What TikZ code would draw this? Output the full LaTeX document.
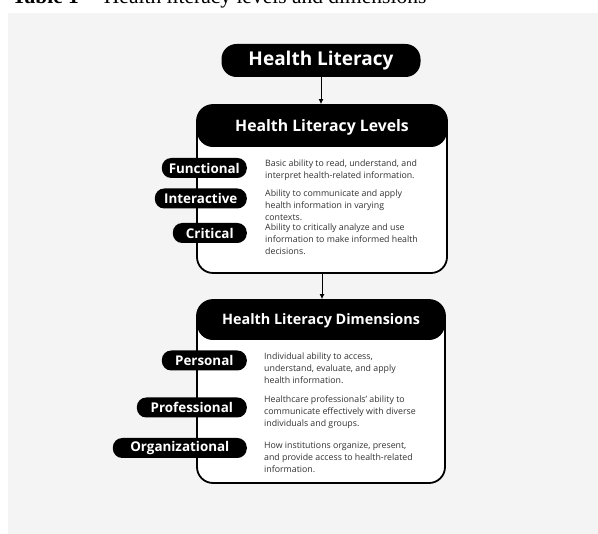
\documentclass[tikz,border=0pt]{standalone}
\usepackage{fontspec}
\setmainfont{Open Sans}
\newfontfamily\captionfont{Liberation Serif}
\usepackage{xcolor}
\usepackage{tikz}
\usetikzlibrary{arrows.meta}

\definecolor{paper}{RGB}{243,244,243}
\definecolor{inktext}{RGB}{50,50,50}

\tikzset{
	toppill/.style={fill=black, text=white, rounded corners=15pt, minimum width=199pt, minimum height=33pt, inner sep=0pt, font=\bfseries\fontsize{19}{21}\selectfont},
	pill/.style={fill=black, text=white, rounded corners=9.5pt, minimum height=20pt, inner sep=0pt, anchor=east, font=\bfseries\fontsize{13.4}{15}\selectfont},
	panel/.style={draw=black, line width=1.8pt, fill=white, rounded corners=16pt, inner sep=0pt,
		path picture={\fill[black] (path picture bounding box.north west) rectangle ([yshift=-#1]path picture bounding box.north east);}},
	paneltitle/.style={text=white, inner sep=0pt, font=\bfseries\fontsize{15.8}{18}\selectfont},
	blurb/.style={anchor=base west, align=left, inner sep=0pt, text=inktext, font=\fontsize{8.8}{12}\selectfont},
	link/.style={-{Latex[length=5pt,width=5pt]}, line width=1pt},
}

\begin{document}
\begin{tikzpicture}[x=1pt,y=-1pt]

\clip (0,0) rectangle (598,534);
\fill[white] (0,0) rectangle (598,534);
\fill[paper] (8,13) rectangle (598,534);

\node[anchor=base west, inner sep=0pt, font=\captionfont\fontsize{21.5}{24}\selectfont] (caption) at (12,3.5) {\textbf{Table 1} -- Health literacy levels and dimensions};

% ------------------------------------------------------

\node[toppill] (hl) at (321,60.5) {Health Literacy};

\node[panel=42pt, minimum width=250pt, minimum height=168pt] (levels) at (322,189) {};
\node[paneltitle] (levelstitle) at (322,127) {Health Literacy Levels};

\node[pill, minimum width=85pt] (functional) at (247,168) {Functional};
\node[pill, minimum width=92pt] (interactive) at (247,198.5) {Interactive};
\node[pill, minimum width=74pt] (critical) at (247,233) {Critical};

% base sits on the last line, 12pt apart
\node[blurb] (functionaltext) at (265,178.5) {Basic ability to read, understand, and\\interpret health-related information.};
\node[blurb] (interactivetext) at (265,220.5) {Ability to communicate and apply\\health information in varying\\contexts.};
\node[blurb] (criticaltext) at (265,254.5) {Ability to critically analyze and use\\information to make informed health\\decisions.};

% ------------------------------------------------------

\node[panel=40pt, minimum width=248pt, minimum height=183pt] (dims) at (321,391.5) {};
\node[paneltitle, font=\bfseries\fontsize{14.4}{17}\selectfont] (dimstitle) at (321,321) {Health Literacy Dimensions};

\node[pill, minimum width=85pt] (personal) at (247,360.5) {Personal};
\node[pill, minimum width=110pt] (professional) at (247,407.5) {Professional};
\node[pill, minimum width=134pt] (organizational) at (247,448) {Organizational};

\node[blurb] (personaltext) at (264,383.5) {Individual ability to access,\\understand, evaluate, and apply\\health information.};
\node[blurb] (professionaltext) at (264,426.5) {Healthcare professionals' ability to\\communicate effectively with diverse\\individuals and groups.};
\node[blurb] (organizationaltext) at (264,472.5) {How institutions organize, present,\\and provide access to health-related\\information.};

% ------------------------------------------------------

\draw[link] (hl.south) -- (hl.south |- levels.north);
\draw[link] (levels.south) -- (levels.south |- dims.north);

\end{tikzpicture}
\end{document}
